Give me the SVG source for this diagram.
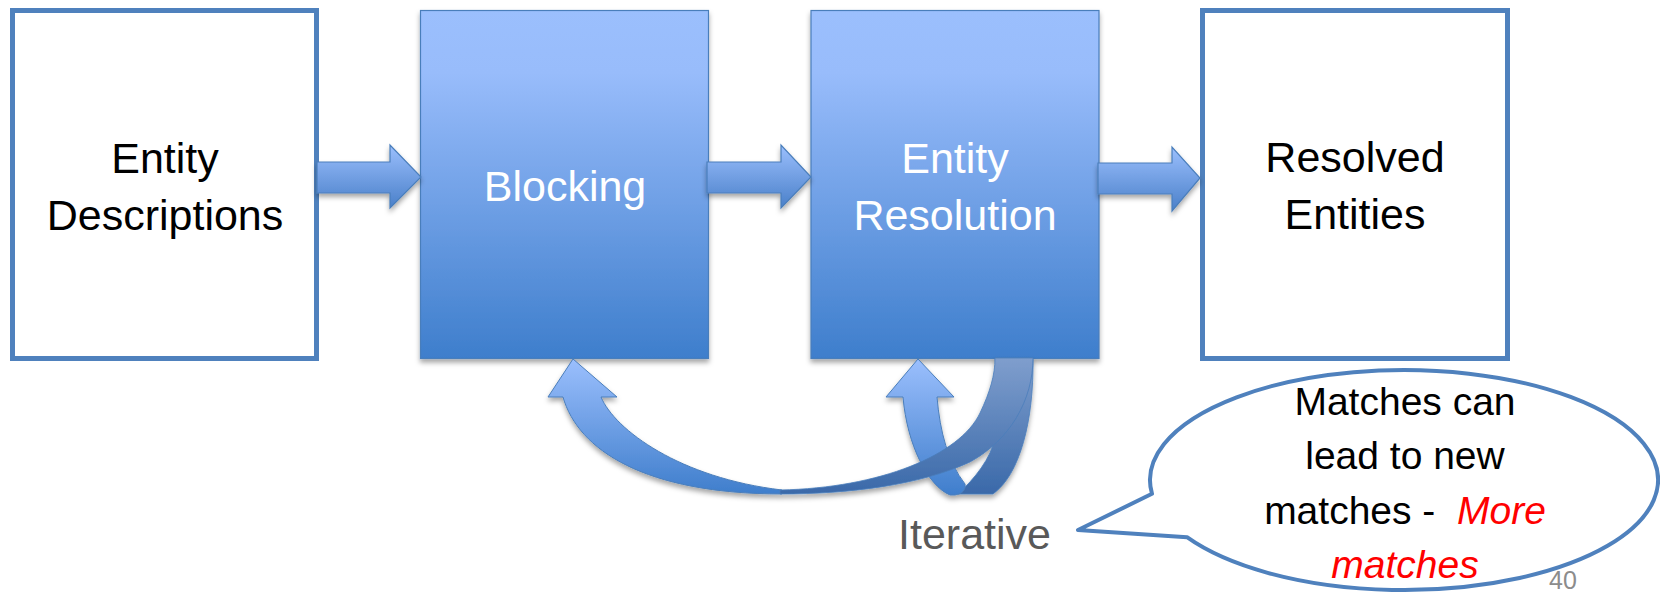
<svg xmlns="http://www.w3.org/2000/svg" width="1660" height="596" viewBox="0 0 1660 596">
  <style>
    .plain { fill: #ffffff; stroke: #4f81bd; stroke-width: 5; }
    .solid { fill: url(#boxFill); stroke: #4a7ebb; stroke-width: 1.2; filter: url(#shadow); }
    .lbl { font-family: "Liberation Sans", Arial, sans-serif; font-size: 43px; text-anchor: middle; }
    .dark { fill: #000000; }
    .light { fill: #ffffff; }
    .flow { fill: url(#arrowFill); stroke: #4a7ebb; stroke-width: 1.2; stroke-linejoin: miter; filter: url(#shadow); }
    .front { fill: url(#frontFill); stroke: #4a7ebb; stroke-width: 1; }
    .back { fill: url(#backFill); stroke: #4a7ebb; stroke-width: 0.8; }
    .note { font-family: "Liberation Sans", Arial, sans-serif; font-size: 39px; text-anchor: middle; fill: #000000; }
    .em { fill: #ff0000; font-style: italic; }
  </style>
  <defs>
    <linearGradient id="boxFill" x1="0" y1="0" x2="0" y2="1">
      <stop offset="0" stop-color="#9bbffd"/>
      <stop offset="0.18" stop-color="#98bcfb"/>
      <stop offset="1" stop-color="#3e7ecc"/>
    </linearGradient>
    <linearGradient id="arrowFill" x1="0" y1="0" x2="0" y2="1">
      <stop offset="0" stop-color="#9bbffd"/>
      <stop offset="1" stop-color="#4a80c9"/>
    </linearGradient>
    <linearGradient id="frontFill" x1="0" y1="0" x2="0" y2="1">
      <stop offset="0" stop-color="#9bbffd"/>
      <stop offset="1" stop-color="#3f7ecc"/>
    </linearGradient>
    <linearGradient id="backFill" x1="0" y1="0" x2="0" y2="1">
      <stop offset="0" stop-color="#7f9ecd"/>
      <stop offset="1" stop-color="#3a69a9"/>
    </linearGradient>
    <filter id="shadow" x="-10%" y="-10%" width="120%" height="130%">
      <feDropShadow dx="0" dy="3.5" stdDeviation="2.5" flood-color="#000000" flood-opacity="0.35"/>
    </filter>
  </defs>

  <rect width="1660" height="596" fill="#ffffff"/>

  <!-- pipeline stages -->
  <g id="node-entity-descriptions">
    <rect class="plain" x="12.5" y="10.5" width="304" height="348"/>
    <text class="lbl dark" x="165" y="173">Entity</text>
    <text class="lbl dark" x="165" y="230">Descriptions</text>
  </g>

  <g id="node-blocking">
    <rect class="solid" x="420.5" y="10.5" width="288" height="348"/>
    <text class="lbl light" x="565" y="201">Blocking</text>
  </g>

  <g id="node-entity-resolution">
    <rect class="solid" x="811" y="10.5" width="288" height="348"/>
    <text class="lbl light" x="955" y="173">Entity</text>
    <text class="lbl light" x="955" y="230">Resolution</text>
  </g>

  <g id="node-resolved-entities">
    <rect class="plain" x="1202.5" y="10.5" width="305" height="348"/>
    <text class="lbl dark" x="1355" y="172">Resolved</text>
    <text class="lbl dark" x="1355" y="229">Entities</text>
  </g>

  <!-- connectors: block arrows and the curved feedback ribbons -->
  <g id="connectors">
    <path class="flow" d="M317,162 L390,162 L390,145 L421,177 L390,208 L390,193 L317,193 Z"/>
    <path class="flow" d="M707,162 L781,162 L781,145 L811,177 L781,208 L781,193 L707,193 Z"/>
    <path class="flow" d="M1098,163 L1172,163 L1172,147 L1200,178 L1172,211 L1172,194 L1098,194 Z"/>

    <g filter="url(#shadow)">
      <!-- small loop back into Entity Resolution: rear leg -->
      <path class="back" d="M995,358 L1033,358 C1034,420 1020,475 993,494 L958,494 C975,478 990,460 996,436 C1000,412 999,385 995,358 Z"/>
      <!-- small loop: front leg with head -->
      <path class="front" d="M903,397 L886,397 L918,359 L954,397 L937,397 C940,432 948,462 965,484 C966,490 962,494 955,495 L950,495 C928,486 907,445 903,397 Z"/>
      <!-- long loop back into Blocking: front half with head -->
      <path class="front" d="M563,397 L548,397 L573,359 L617,397 L601,397 C615,430 680,478 782,490 L782,494 C645,494 578,450 563,397 Z"/>
      <!-- long loop: rear half rising to Entity Resolution -->
      <path class="back" d="M780,490 C880,488 960,455 980,413 C990,392 995,375 995,358 L1033,358 C1033,400 1010,440 970,462 C920,485 850,494 780,494 Z"/>
    </g>

    <text id="label-iterative" x="898" y="549" font-family="Liberation Sans, Arial, sans-serif" font-size="43" fill="#595959">Iterative</text>
  </g>

  <!-- callout -->
  <g id="node-note">
    <path d="M1187,537.2 A254,110 0 1 0 1152,493.8 L1078,530 Z" fill="#ffffff" stroke="#4f81bd" stroke-width="4" stroke-linejoin="round"/>
    <text class="note" x="1405" y="415">Matches can</text>
    <text class="note" x="1405" y="469">lead to new</text>
    <text class="note" x="1405" y="524" xml:space="preserve">matches -  <tspan class="em">More</tspan></text>
    <text class="note em" x="1405" y="578">matches</text>
  </g>

  <text id="page-number" x="1549" y="589" font-family="Liberation Sans, Arial, sans-serif" font-size="25" fill="#8c8c8c">40</text>
</svg>
